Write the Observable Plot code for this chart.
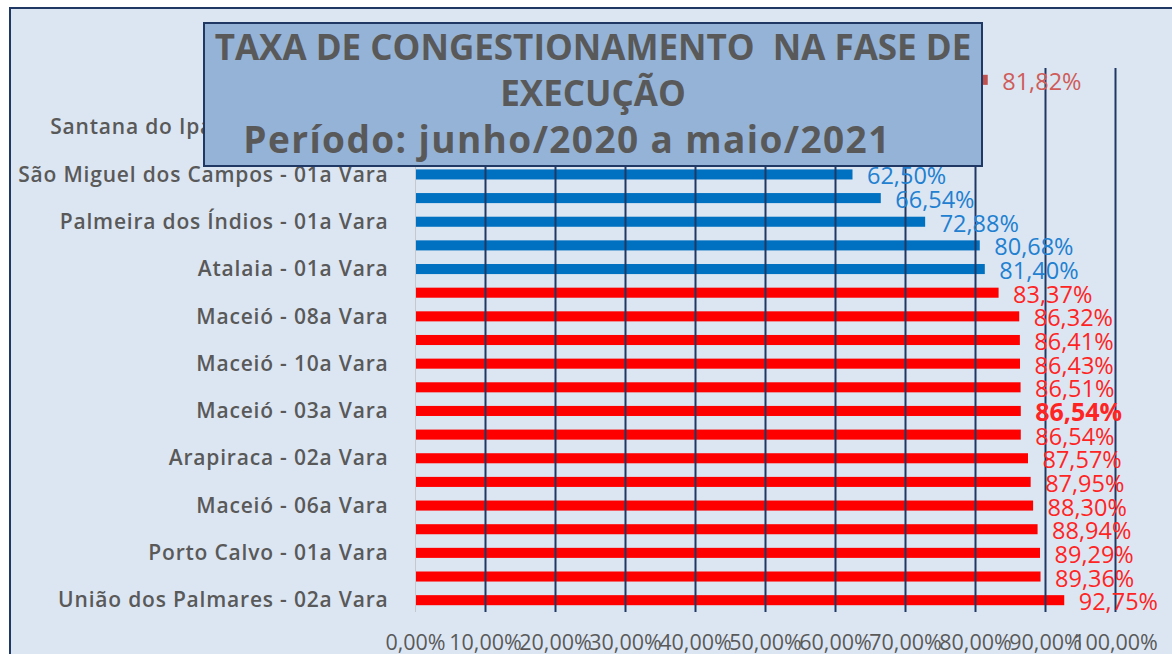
<!DOCTYPE html>
<html>
<head>
<meta charset="utf-8">
<script src="https://cdn.jsdelivr.net/npm/d3@7"></script>
<script src="https://cdn.jsdelivr.net/npm/@observablehq/plot@0.6"></script>
<style>
  html, body { margin: 0; padding: 0; background: #ffffff; }
  #wrap { position: relative; width: 1172px; height: 654px; overflow: hidden; font-family: "Open Sans", Lato, sans-serif; }
  #panel { position: absolute; left: 9px; top: 7px; width: 1200px; height: 700px; background: #dce6f2; border: 2px solid #1f3864; box-sizing: border-box; }
  #chart { position: absolute; left: 0; top: 0; }
  #title { position: absolute; left: 203px; top: 22px; width: 780px; height: 145px; box-sizing: border-box;
           background: #95b3d7; border: 2px solid #1f3864; color: #595959; font-weight: bold;
           font-size: 35px; line-height: 46px; text-align: center; padding-top: 0px; white-space: nowrap; }
  #title .l3 { display: inline-block; padding-right: 52px; font-size: 37px; letter-spacing: 1.4px; }
</style>
</head>
<body>
<div id="wrap">
  <div id="panel"></div>
  <div id="chart"></div>
  <div id="title">TAXA DE CONGESTIONAMENTO&nbsp; NA FASE DE<br>EXECUÇÃO<br><span class="l3">Período: junho/2020 a maio/2021</span></div>
</div>
<script>
// Categories from top to bottom (several rows are hidden behind the title box in the original)
const categories = [
  "Média do Estado",
  "Coruripe - 01a Vara",
  "Santana do Ipanema - 01a Vara",
  "Penedo - 01a Vara",
  "São Miguel dos Campos - 01a Vara",
  "Marechal Deodoro - 01a Vara",
  "Palmeira dos Índios - 01a Vara",
  "Rio Largo - 01a Vara",
  "Atalaia - 01a Vara",
  "Arapiraca - 01a Vara",
  "Maceió - 08a Vara",
  "Maceió - 01a Vara",
  "Maceió - 10a Vara",
  "Maceió - 02a Vara",
  "Maceió - 03a Vara",
  "Maceió - 04a Vara",
  "Arapiraca - 02a Vara",
  "Maceió - 05a Vara",
  "Maceió - 06a Vara",
  "Maceió - 07a Vara",
  "Porto Calvo - 01a Vara",
  "Maceió - 09a Vara",
  "União dos Palmares - 02a Vara"
];
const values = [81.82, 48.00, 55.00, 59.50, 62.50, 66.54, 72.88, 80.68, 81.40, 83.37, 86.32, 86.41, 86.43,
                86.51, 86.54, 86.54, 87.57, 87.95, 88.30, 88.94, 89.29, 89.36, 92.75];
// group: "media" = state average, "abaixo" = below average, "acima" = above average
const groups = ["media", "abaixo", "abaixo", "abaixo", "abaixo", "abaixo", "abaixo", "abaixo", "abaixo",
                "acima", "acima", "acima", "acima", "acima", "acima", "acima", "acima", "acima", "acima",
                "acima", "acima", "acima", "acima"];
const highlighted = ["Maceió - 03a Vara"];
const labeledCategories = categories.filter((d, i) => i % 2 === 0);
const xTicks = [0, 10, 20, 30, 40, 50, 60, 70, 80, 90, 100];

const barColor = {media: "#c0504d", abaixo: "#0070c0", acima: "#ff0000"};
const labelColor = {media: "#cf5c59", abaixo: "#2280d0", acima: "#ff2424"};

const data = categories.map((name, i) => ({name, value: values[i], group: groups[i]}));
const fmt = v => v.toFixed(2).replace(".", ",") + "%";

const chart = Plot.plot({
  width: 1172,
  height: 654,
  marginLeft: 415,
  marginRight: 57,
  marginTop: 68,
  marginBottom: 42,
  style: {background: "transparent", fontFamily: "'Open Sans', Lato, sans-serif", overflow: "visible"},
  x: {domain: [0, 100]},
  y: {domain: categories, paddingInner: 0.575, paddingOuter: 0.2875, round: false, axis: null},
  marks: [
    Plot.barX(data, {x: "value", y: "name", fill: d => barColor[d.group]}),
    Plot.ruleX([0], {stroke: "#c6c9cc", strokeWidth: 1}),
    Plot.ruleX(xTicks.filter(t => t > 0), {stroke: "#1f3864", strokeWidth: 2}),
    Plot.text(data.filter(d => !highlighted.includes(d.name)), {
      x: "value", y: "name", text: d => fmt(d.value), dx: 14, dy: 2, textAnchor: "start",
      fill: d => labelColor[d.group], fontSize: 23.5
    }),
    Plot.text(data.filter(d => highlighted.includes(d.name)), {
      x: "value", y: "name", text: d => fmt(d.value), dx: 14, dy: 2, textAnchor: "start",
      fill: d => labelColor[d.group], fontSize: 25, fontWeight: "bold"
    }),
    Plot.axisY({ticks: labeledCategories, tickSize: 0, tickPadding: 27, fontSize: 21, fontWeight: 600, color: "#595959", label: null}),
    Plot.axisX({ticks: xTicks, tickSize: 0, tickPadding: 22, fontSize: 21.5, color: "#595959", label: null,
                tickFormat: v => v.toFixed(2).replace(".", ",") + "%"})
  ]
});
chart.querySelectorAll('g[aria-label="y-axis tick label"] text').forEach(t => t.setAttribute("letter-spacing", "0.8"));
document.getElementById("chart").appendChild(chart);
</script>
</body>
</html>
